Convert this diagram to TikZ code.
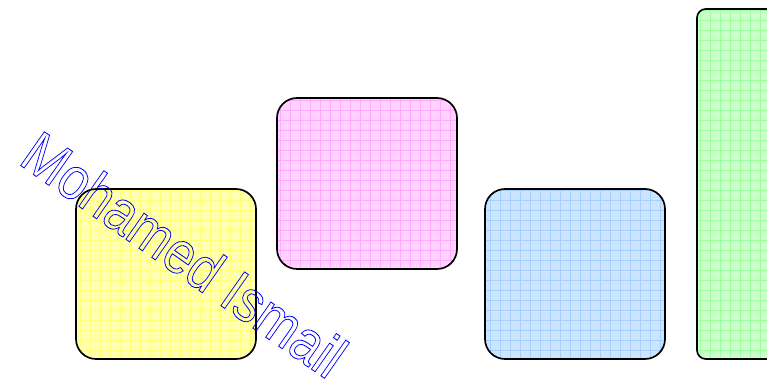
\documentclass[tikz,border=0pt]{standalone}
\usepackage{fontspec}
\setmainfont{Liberation Sans}
\usepackage{tikz}
\usetikzlibrary{calc}
\pgfdeclarelayer{background}
\pgfdeclarelayer{foreground}
\pgfsetlayers{background,main,foreground}

\definecolor{yelfill}{HTML}{FFFFB4}
\definecolor{yelgrid}{HTML}{FFFF7A}
\definecolor{pinkfill}{HTML}{FFD2FF}
\definecolor{pinkgrid}{HTML}{FFAAFF}
\definecolor{bluefill}{HTML}{CCE5FF}
\definecolor{bluegrid}{HTML}{A6CFFF}
\definecolor{greenfill}{HTML}{CCFFCC}
\definecolor{greengrid}{HTML}{9EFF9E}

% stroked (hollow) letters
\newcommand{\hollowtext}[1]{\special{pdf:literal direct 1 Tr 0.6 w}#1\special{pdf:literal direct 0 Tr}}

\tikzset{
  boxline/.style={line width=1.2pt, draw=black},
  gridline/.style={line width=0.5pt, step=1},
  signature/.style={text=blue, inner sep=0pt, anchor=base west, rotate=-35, xscale=0.86,
    font=\fontsize{42.7}{50}\selectfont}
}

\begin{document}
\begin{tikzpicture}[x=0.25cm, y=0.25cm]
\useasboundingbox (0,0) rectangle (76.7,38);

\begin{pgfonlayer}{background}
% yellow
\begin{scope}
\clip [rounded corners=0.5cm] (7.6,2.1) rectangle (25.6,19.1);
\fill [yelfill] (7.6,2.1) rectangle (25.6,19.1);
\draw [yelgrid, gridline] (7.6,2.1) grid (25.6,19.1);
\end{scope}
\draw [boxline, rounded corners=0.5cm] (7.6,2.1) rectangle (25.6,19.1);

% pink
\begin{scope}
\clip [rounded corners=0.5cm] (27.7,11.1) rectangle (45.7,28.2);
\fill [pinkfill] (27.7,11.1) rectangle (45.7,28.2);
\draw [pinkgrid, gridline] (27.7,11.1) grid (45.7,28.2);
\end{scope}
\draw [boxline, rounded corners=0.5cm] (27.7,11.1) rectangle (45.7,28.2);

% blue
\begin{scope}
\clip [rounded corners=0.5cm] (48.5,2.1) rectangle (66.5,19.1);
\fill [bluefill] (48.5,2.1) rectangle (66.5,19.1);
\draw [bluegrid, gridline] (48.5,2.1) grid (66.5,19.1);
\end{scope}
\draw [boxline, rounded corners=0.5cm] (48.5,2.1) rectangle (66.5,19.1);

% green
\begin{scope}
\clip [rounded corners=0.22cm] (69.7,2.1) rectangle (87.7,37.1);
\fill [greenfill] (69.7,2.1) rectangle (87.7,37.1);
\draw [greengrid, gridline] (69.7,2.1) grid (87.7,37.1);
\end{scope}
\draw [boxline, rounded corners=0.22cm] (69.7,2.1) rectangle (87.7,37.1);
\end{pgfonlayer}

\begin{pgfonlayer}{foreground}
\node [signature] (name) at (1.7,21.7) {\hollowtext{Mohamed Ismail}};
\end{pgfonlayer}

\end{tikzpicture}
\end{document}
